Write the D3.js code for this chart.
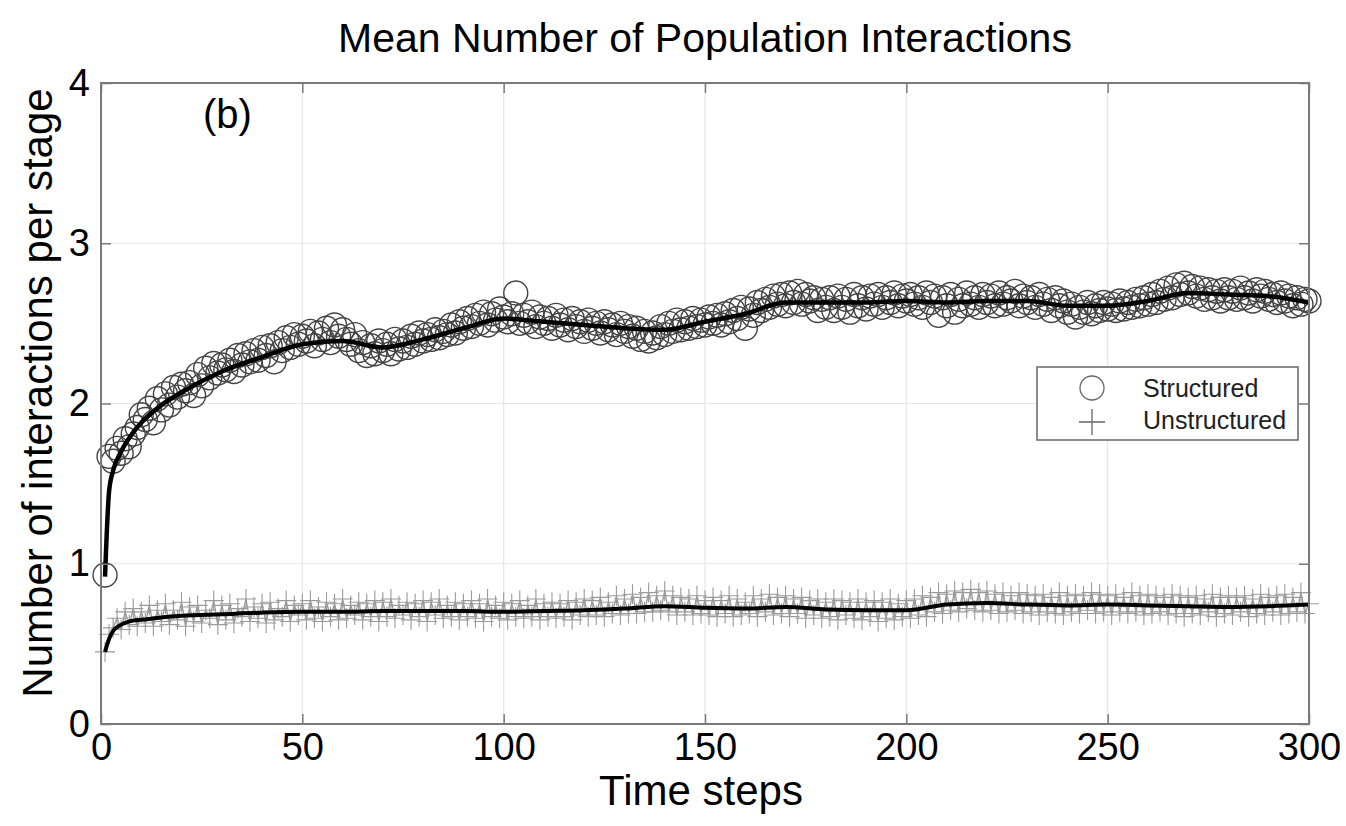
<!DOCTYPE html>
<html>
<head>
<meta charset="utf-8">
<script src="https://cdn.jsdelivr.net/npm/d3@7"></script>
<style>
  body { margin: 0; background: #fff; }
  svg { font-family: 'Liberation Sans', Arial, sans-serif; }
</style>
</head>
<body>
<script>
const xTicks = [0, 50, 100, 150, 200, 250, 300];
const yTicks = [0, 1, 2, 3, 4];

// mean interactions, structured population, one value per time step (1..300)
const structured = [
  0.93, 1.67, 1.64, 1.72, 1.69, 1.78, 1.73, 1.81, 1.85, 1.93,
  1.90, 1.97, 1.88, 2.03, 1.96, 2.06, 1.99, 2.10, 2.04, 2.12,
  2.08, 2.13, 2.05, 2.18, 2.11, 2.22, 2.16, 2.25, 2.19, 2.24,
  2.21, 2.27, 2.20, 2.30, 2.24, 2.31, 2.26, 2.33, 2.27, 2.35,
  2.30, 2.36, 2.26, 2.38, 2.33, 2.41, 2.35, 2.43, 2.37, 2.42,
  2.39, 2.45, 2.36, 2.44, 2.40, 2.47, 2.38, 2.49, 2.42, 2.46,
  2.40, 2.37, 2.43, 2.33, 2.38, 2.30, 2.36, 2.31, 2.39, 2.33,
  2.37, 2.31, 2.40, 2.34, 2.39, 2.35, 2.42, 2.37, 2.44, 2.39,
  2.43, 2.40, 2.46, 2.41, 2.45, 2.43, 2.49, 2.44, 2.51, 2.47,
  2.53, 2.48, 2.55, 2.50, 2.57, 2.49, 2.56, 2.52, 2.59, 2.54,
  2.51, 2.56, 2.69, 2.50, 2.55, 2.51, 2.57, 2.48, 2.54, 2.50,
  2.53, 2.47, 2.55, 2.49, 2.52, 2.46, 2.53, 2.48, 2.51, 2.45,
  2.52, 2.47, 2.50, 2.44, 2.51, 2.46, 2.49, 2.43, 2.50, 2.45,
  2.48, 2.42, 2.47, 2.40, 2.45, 2.39, 2.44, 2.41, 2.48, 2.43,
  2.50, 2.45, 2.52, 2.46, 2.51, 2.47, 2.53, 2.48, 2.52, 2.49,
  2.54, 2.50, 2.55, 2.49, 2.56, 2.51, 2.58, 2.53, 2.60, 2.47,
  2.59, 2.55, 2.63, 2.58, 2.65, 2.60, 2.67, 2.62, 2.68, 2.61,
  2.69, 2.63, 2.70, 2.62, 2.68, 2.64, 2.66, 2.58, 2.65, 2.60,
  2.66, 2.58, 2.67, 2.60, 2.65, 2.57, 2.68, 2.61, 2.66, 2.59,
  2.67, 2.62, 2.68, 2.60, 2.66, 2.63, 2.69, 2.61, 2.67, 2.64,
  2.68, 2.62, 2.66, 2.60, 2.69, 2.63, 2.67, 2.55, 2.66, 2.61,
  2.68, 2.57, 2.65, 2.61, 2.69, 2.62, 2.66, 2.60, 2.68, 2.63,
  2.67, 2.61, 2.69, 2.62, 2.66, 2.64, 2.70, 2.61, 2.67, 2.63,
  2.66, 2.60, 2.68, 2.62, 2.65, 2.58, 2.66, 2.61, 2.64, 2.57,
  2.62, 2.54, 2.60, 2.57, 2.63, 2.56, 2.61, 2.58, 2.63, 2.59,
  2.62, 2.58, 2.64, 2.59, 2.63, 2.60, 2.65, 2.61, 2.66, 2.62,
  2.68, 2.63, 2.70, 2.65, 2.72, 2.66, 2.74, 2.68, 2.75, 2.69,
  2.73, 2.67, 2.72, 2.65, 2.71, 2.66, 2.70, 2.64, 2.71, 2.66,
  2.70, 2.65, 2.72, 2.66, 2.69, 2.64, 2.71, 2.67, 2.70, 2.65,
  2.68, 2.63, 2.69, 2.64, 2.67, 2.61, 2.66, 2.62, 2.65, 2.64,
];

// mean interactions, unstructured population, one value per time step (1..300)
const unstructured = [
  0.45, 0.56, 0.60, 0.66, 0.59, 0.70, 0.62, 0.72, 0.61, 0.70,
  0.63, 0.74, 0.61, 0.71, 0.64, 0.75, 0.62, 0.71, 0.65, 0.76,
  0.61, 0.73, 0.64, 0.74, 0.63, 0.71, 0.66, 0.77, 0.62, 0.74,
  0.65, 0.75, 0.63, 0.72, 0.67, 0.78, 0.64, 0.73, 0.66, 0.75,
  0.63, 0.76, 0.65, 0.72, 0.67, 0.77, 0.64, 0.74, 0.68, 0.75,
  0.65, 0.77, 0.66, 0.73, 0.64, 0.76, 0.67, 0.75, 0.65, 0.78,
  0.66, 0.74, 0.68, 0.76, 0.65, 0.75, 0.67, 0.77, 0.64, 0.76,
  0.67, 0.78, 0.66, 0.74, 0.68, 0.76, 0.65, 0.75, 0.67, 0.77,
  0.64, 0.76, 0.68, 0.78, 0.66, 0.74, 0.67, 0.76, 0.65, 0.75,
  0.67, 0.77, 0.66, 0.75, 0.64, 0.78, 0.67, 0.74, 0.66, 0.76,
  0.65, 0.75, 0.67, 0.77, 0.66, 0.74, 0.67, 0.78, 0.65, 0.75,
  0.67, 0.76, 0.66, 0.75, 0.67, 0.77, 0.65, 0.76, 0.68, 0.78,
  0.67, 0.77, 0.68, 0.79, 0.67, 0.76, 0.69, 0.80, 0.68, 0.78,
  0.69, 0.81, 0.69, 0.79, 0.70, 0.82, 0.70, 0.80, 0.71, 0.83,
  0.70, 0.80, 0.68, 0.79, 0.70, 0.78, 0.68, 0.80, 0.69, 0.77,
  0.68, 0.79, 0.67, 0.77, 0.69, 0.80, 0.67, 0.78, 0.68, 0.76,
  0.69, 0.80, 0.67, 0.78, 0.70, 0.81, 0.68, 0.79, 0.69, 0.80,
  0.67, 0.78, 0.69, 0.79, 0.66, 0.77, 0.68, 0.78, 0.66, 0.76,
  0.67, 0.78, 0.65, 0.77, 0.68, 0.76, 0.66, 0.78, 0.65, 0.76,
  0.67, 0.77, 0.64, 0.76, 0.66, 0.78, 0.65, 0.75, 0.67, 0.77,
  0.66, 0.78, 0.68, 0.80, 0.67, 0.79, 0.70, 0.82, 0.69, 0.81,
  0.71, 0.83, 0.70, 0.82, 0.72, 0.84, 0.71, 0.82, 0.70, 0.83,
  0.71, 0.81, 0.69, 0.82, 0.70, 0.80, 0.71, 0.82, 0.69, 0.81,
  0.70, 0.80, 0.68, 0.81, 0.70, 0.79, 0.69, 0.82, 0.68, 0.80,
  0.70, 0.81, 0.69, 0.80, 0.71, 0.82, 0.69, 0.81, 0.70, 0.80,
  0.68, 0.81, 0.70, 0.79, 0.69, 0.82, 0.70, 0.80, 0.68, 0.81,
  0.69, 0.80, 0.70, 0.79, 0.68, 0.81, 0.69, 0.80, 0.67, 0.79,
  0.69, 0.80, 0.68, 0.78, 0.70, 0.81, 0.67, 0.79, 0.69, 0.80,
  0.68, 0.79, 0.70, 0.80, 0.67, 0.78, 0.69, 0.81, 0.68, 0.79,
  0.70, 0.80, 0.68, 0.81, 0.69, 0.79, 0.70, 0.82, 0.69, 0.75,
];

// smoothed trend lines, read at these steps
const trendSteps = [
  1, 2, 3, 5, 8, 10, 15, 20, 30, 40, 50, 60, 70, 80, 90, 100, 110, 120,
  130, 140, 150, 160, 170, 180, 190, 200, 210, 220, 230, 240, 250, 260,
  270, 280, 290, 300,
];
const trendStructured = [
  0.92, 1.45, 1.58, 1.70, 1.82, 1.88, 1.99, 2.07, 2.20, 2.29, 2.37, 2.39,
  2.35, 2.40, 2.47, 2.53, 2.51, 2.49, 2.47, 2.46, 2.51, 2.56, 2.63, 2.63,
  2.63, 2.64, 2.63, 2.64, 2.64, 2.61, 2.61, 2.64, 2.69, 2.68, 2.67, 2.63,
];
const trendUnstructured = [
  0.45, 0.53, 0.58, 0.62, 0.645, 0.65, 0.665, 0.675, 0.685, 0.695, 0.70,
  0.70, 0.705, 0.705, 0.705, 0.70, 0.705, 0.71, 0.72, 0.735, 0.725, 0.72,
  0.73, 0.715, 0.71, 0.71, 0.745, 0.755, 0.745, 0.74, 0.745, 0.74, 0.735,
  0.73, 0.735, 0.745,
];

const w = 1346;
const h = 826;

const svg = d3.select('body').append('svg').attr('width', w).attr('height', h);

const xScale = d3.scaleLinear().domain([0, 300]).range([101, 1309]);
const yScale = d3.scaleLinear().domain([0, 4]).range([724, 83]);

const steps = structured.map((d, i) => i + 1);

// grid lines
svg
  .append('g')
  .selectAll('line')
  .data(xTicks.slice(1, -1))
  .enter()
  .append('line')
  .attr('x1', (d) => xScale(d))
  .attr('x2', (d) => xScale(d))
  .attr('y1', yScale(0))
  .attr('y2', yScale(4))
  .attr('stroke', '#e6e6e6')
  .attr('stroke-width', 1.2);

svg
  .append('g')
  .selectAll('line')
  .data(yTicks.slice(1, -1))
  .enter()
  .append('line')
  .attr('x1', xScale(0))
  .attr('x2', xScale(300))
  .attr('y1', (d) => yScale(d))
  .attr('y2', (d) => yScale(d))
  .attr('stroke', '#e6e6e6')
  .attr('stroke-width', 1.2);

// unstructured series: grey line with plus markers
const rawLine = d3
  .line()
  .x((d, i) => xScale(steps[i]))
  .y((d) => yScale(d));

svg
  .append('path')
  .attr('d', rawLine(unstructured))
  .attr('fill', 'none')
  .attr('stroke', '#9a9a9a')
  .attr('stroke-width', 1.3);

svg
  .append('g')
  .selectAll('path')
  .data(unstructured)
  .enter()
  .append('path')
  .attr('d', 'M-10,0H10M0,-10V10')
  .attr('transform', (d, i) => `translate(${xScale(steps[i])},${yScale(d)})`)
  .attr('stroke', '#9a9a9a')
  .attr('stroke-width', 1.1)
  .attr('fill', 'none');

// structured series: open circles
svg
  .append('g')
  .selectAll('circle')
  .data(structured)
  .enter()
  .append('circle')
  .attr('cx', (d, i) => xScale(steps[i]))
  .attr('cy', (d) => yScale(d))
  .attr('r', 12)
  .attr('fill', 'none')
  .attr('stroke', '#444')
  .attr('stroke-width', 1.4);

// smoothed trend lines
const trendLine = d3
  .line()
  .x((d, i) => xScale(trendSteps[i]))
  .y((d) => yScale(d))
  .curve(d3.curveMonotoneX);

svg
  .append('path')
  .attr('d', trendLine(trendStructured))
  .attr('fill', 'none')
  .attr('stroke', '#000')
  .attr('stroke-width', 4.5);

svg
  .append('path')
  .attr('d', trendLine(trendUnstructured))
  .attr('fill', 'none')
  .attr('stroke', '#000')
  .attr('stroke-width', 4);

// axes box with inward ticks on all sides
const axisColor = '#7a7a7a';

const styleAxis = (g) => {
  g.select('.domain').remove();
  g.selectAll('.tick line').attr('stroke', axisColor).attr('stroke-width', 1.5);
  g.selectAll('.tick text')
    .attr('fill', '#000')
    .style('font-size', '38px')
    .style('font-family', "'Liberation Sans', Arial, sans-serif");
};

svg
  .append('g')
  .attr('transform', `translate(0,${yScale(0)})`)
  .call(d3.axisBottom(xScale).tickValues(xTicks).tickSize(-10).tickPadding(9))
  .call(styleAxis);

svg
  .append('g')
  .attr('transform', `translate(0,${yScale(4)})`)
  .call(d3.axisTop(xScale).tickValues(xTicks).tickSize(-10).tickFormat(''))
  .call(styleAxis);

svg
  .append('g')
  .attr('transform', `translate(${xScale(0)},0)`)
  .call(
    d3
      .axisLeft(yScale)
      .tickValues(yTicks)
      .tickFormat(d3.format('d'))
      .tickSize(-10)
      .tickPadding(11)
  )
  .call(styleAxis);

svg
  .append('g')
  .attr('transform', `translate(${xScale(300)},0)`)
  .call(d3.axisRight(yScale).tickValues(yTicks).tickSize(-10).tickFormat(''))
  .call(styleAxis);

svg
  .append('rect')
  .attr('x', xScale(0))
  .attr('y', yScale(4))
  .attr('width', xScale(300) - xScale(0))
  .attr('height', yScale(0) - yScale(4))
  .attr('fill', 'none')
  .attr('stroke', axisColor)
  .attr('stroke-width', 2);

// titles and labels
svg
  .append('text')
  .attr('x', 705)
  .attr('y', 52)
  .attr('text-anchor', 'middle')
  .style('font-size', '41px')
  .style('fill', '#000')
  .text('Mean Number of Population Interactions');

svg
  .append('text')
  .attr('x', 701)
  .attr('y', 805)
  .attr('text-anchor', 'middle')
  .style('font-size', '42px')
  .style('fill', '#000')
  .text('Time steps');

svg
  .append('text')
  .attr('transform', 'translate(52,393) rotate(-90)')
  .attr('text-anchor', 'middle')
  .style('font-size', '42px')
  .style('fill', '#000')
  .text('Number of interactions per stage');

svg
  .append('text')
  .attr('x', 203)
  .attr('y', 128)
  .style('font-size', '40px')
  .style('fill', '#000')
  .text('(b)');

// legend
const legend = svg.append('g').attr('transform', 'translate(1037,367)');

legend
  .append('rect')
  .attr('width', 261)
  .attr('height', 73)
  .attr('fill', '#fff')
  .attr('stroke', '#666')
  .attr('stroke-width', 1.5);

legend
  .append('circle')
  .attr('cx', 55)
  .attr('cy', 21)
  .attr('r', 12)
  .attr('fill', 'none')
  .attr('stroke', '#666')
  .attr('stroke-width', 1.3);

legend
  .append('path')
  .attr('d', 'M42,55H68M55,42V68')
  .attr('stroke', '#666')
  .attr('stroke-width', 1.3);

legend
  .append('text')
  .attr('x', 106)
  .attr('y', 30)
  .style('font-size', '25px')
  .style('fill', '#222')
  .text('Structured');

legend
  .append('text')
  .attr('x', 106)
  .attr('y', 62)
  .style('font-size', '25px')
  .style('fill', '#222')
  .text('Unstructured');
</script>
</body>
</html>
